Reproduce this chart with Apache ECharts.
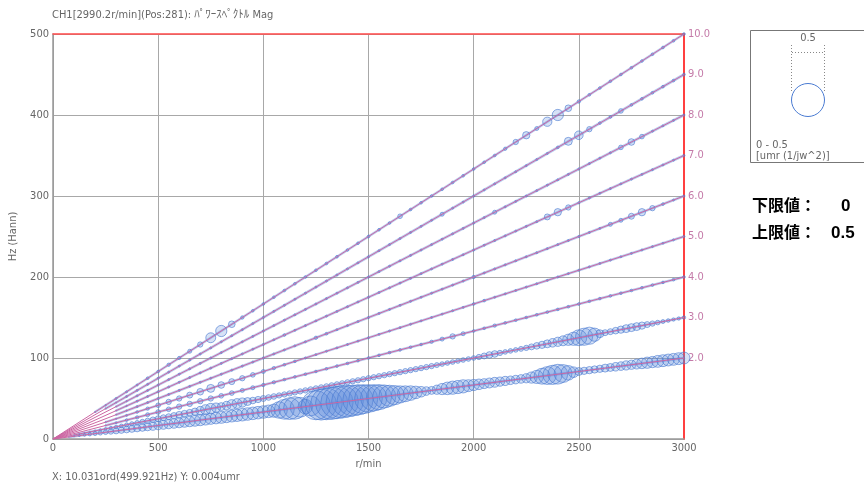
<!DOCTYPE html>
<html>
<head>
<meta charset="utf-8">
<script src="https://cdn.jsdelivr.net/npm/echarts@6/dist/echarts.min.js"></script>
<style>
  html, body { margin: 0; padding: 0; background: #fff; }
  #chart { width: 864px; height: 486px; }
</style>
</head>
<body>
<div id="chart"></div>
<script>
// r/min samples: fine grid (25) for the two strong orders, coarse grid (50) for the rest
var rpmFine = [], rpmCoarse = [];
for (var r = 0; r <= 3000; r += 25) rpmFine.push(r);
for (var r2 = 0; r2 <= 3000; r2 += 50) rpmCoarse.push(r2);

// amplitude [umr] read from the bubbles of each order track
var amp2 = [0,0,0,0.01,0.02,0.03,0.04,0.05,0.06,0.065,
  0.07,0.08,0.09,0.095,0.10,0.105,0.11,0.115,0.12,0.125,
  0.13,0.135,0.14,0.145,0.15,0.155,0.16,0.165,0.17,0.17,
  0.17,0.175,0.18,0.18,0.18,0.185,0.19,0.19,0.19,0.19,
  0.19,0.19,0.20,0.25,0.30,0.33,0.34,0.30,0.22,0.30,
  0.44,0.47,0.48,0.49,0.49,0.49,0.48,0.47,0.46,0.44,
  0.42,0.40,0.38,0.35,0.32,0.29,0.26,0.24,0.22,0.19,
  0.16,0.13,0.12,0.14,0.17,0.19,0.20,0.20,0.20,0.18,
  0.17,0.16,0.15,0.15,0.15,0.14,0.14,0.13,0.13,0.13,
  0.14,0.17,0.20,0.24,0.27,0.29,0.30,0.27,0.22,0.16,
  0.12,0.11,0.11,0.11,0.11,0.12,0.12,0.13,0.13,0.14,
  0.14,0.15,0.16,0.17,0.17,0.18,0.18,0.18,0.18,0.18,0.18];
var amp3 = [0,0,0,0,0.01,0.015,0.02,0.025,0.03,0.035,
  0.04,0.045,0.05,0.055,0.06,0.065,0.07,0.075,0.08,0.085,
  0.09,0.09,0.09,0.095,0.10,0.10,0.10,0.11,0.13,0.15,
  0.16,0.14,0.12,0.13,0.15,0.15,0.14,0.12,0.10,0.095,
  0.09,0.085,0.085,0.08,0.08,0.08,0.08,0.08,0.08,0.08,
  0.08,0.08,0.08,0.08,0.08,0.08,0.08,0.08,0.08,0.08,
  0.08,0.08,0.08,0.08,0.08,0.08,0.08,0.08,0.08,0.08,
  0.08,0.08,0.08,0.075,0.07,0.07,0.07,0.07,0.07,0.07,
  0.07,0.08,0.09,0.10,0.10,0.08,0.07,0.07,0.07,0.075,
  0.08,0.09,0.10,0.11,0.12,0.13,0.14,0.15,0.17,0.20,
  0.24,0.26,0.26,0.20,0.12,0.09,0.09,0.10,0.11,0.12,
  0.12,0.12,0.11,0.09,0.08,0.07,0.06,0.055,0.05,0.05,0.05];
var amp4 = [0,0,0,0,0,0.02,0.03,0.04,0.05,0.06,
  0.07,0.07,0.08,0.08,0.08,0.08,0.07,0.07,0.06,0.06,
  0.05,0.05,0.04,0.04,0.04,0.04,0.04,0.04,0.04,0.04,
  0.04,0.04,0.04,0.04,0.04,0.04,0.05,0.06,0.08,0.06,
  0.04,0.04,0.05,0.04,0.04,0.04,0.04,0.04,0.04,0.04,
  0.04,0.04,0.04,0.04,0.04,0.04,0.04,0.04,0.04,0.04,0.04];
var amp5 = [0,0,0,0,0,0.02,0.02,0.03,0.04,0.05,
  0.07,0.08,0.08,0.09,0.10,0.12,0.10,0.09,0.08,0.07,
  0.06,0.05,0.04,0.04,0.03,0.03,0.03,0.03,0.03,0.03,
  0.03,0.03,0.03,0.03,0.03,0.03,0.03,0.03,0.03,0.03,
  0.04,0.04,0.03,0.03,0.03,0.03,0.03,0.03,0.03,0.03,
  0.03,0.03,0.03,0.03,0.03,0.03,0.03,0.03,0.03,0.03,0.03];
var amp6 = [0,0,0,0,0,0,0.02,0.02,0.03,0.03,
  0.03,0.03,0.03,0.03,0.03,0.03,0.03,0.03,0.03,0.03,
  0.03,0.03,0.03,0.03,0.03,0.05,0.04,0.03,0.03,0.03,
  0.03,0.03,0.03,0.03,0.03,0.03,0.03,0.03,0.03,0.03,
  0.05,0.03,0.03,0.03,0.03,0.03,0.03,0.03,0.03,0.03,
  0.03,0.03,0.03,0.06,0.06,0.09,0.11,0.08,0.04,0.03,0.03];
var amp7 = [0,0,0,0,0,0,0.02,0.02,0.03,0.03,
  0.03,0.03,0.03,0.03,0.03,0.03,0.03,0.03,0.03,0.03,
  0.03,0.03,0.04,0.03,0.03,0.03,0.03,0.03,0.03,0.03,
  0.03,0.03,0.03,0.03,0.03,0.03,0.03,0.03,0.03,0.03,
  0.03,0.03,0.03,0.03,0.03,0.03,0.03,0.09,0.11,0.08,
  0.03,0.03,0.03,0.03,0.03,0.03,0.03,0.03,0.03,0.03,0.03];
var amp8 = [0,0,0,0,0,0,0.02,0.02,0.03,0.03,
  0.03,0.03,0.03,0.03,0.03,0.03,0.03,0.03,0.03,0.03,
  0.03,0.03,0.03,0.03,0.03,0.03,0.03,0.03,0.03,0.03,
  0.03,0.03,0.03,0.03,0.03,0.03,0.03,0.03,0.03,0.03,
  0.03,0.03,0.06,0.03,0.03,0.03,0.03,0.03,0.03,0.03,
  0.03,0.03,0.03,0.03,0.07,0.10,0.07,0.03,0.03,0.03,0.03];
var amp9 = [0,0,0,0,0,0.02,0.02,0.03,0.03,0.03,
  0.03,0.03,0.03,0.03,0.03,0.03,0.03,0.03,0.03,0.03,
  0.03,0.03,0.03,0.03,0.03,0.03,0.03,0.03,0.03,0.03,
  0.03,0.03,0.03,0.03,0.03,0.03,0.03,0.06,0.03,0.03,
  0.03,0.03,0.03,0.03,0.03,0.03,0.03,0.03,0.04,0.12,
  0.13,0.08,0.04,0.04,0.07,0.04,0.04,0.04,0.04,0.04,0.04];
var amp10 = [0,0,0,0,0.02,0.02,0.03,0.03,0.03,0.04,
  0.04,0.05,0.05,0.06,0.08,0.15,0.17,0.10,0.05,0.04,
  0.04,0.04,0.04,0.04,0.04,0.04,0.04,0.04,0.04,0.04,
  0.04,0.04,0.04,0.07,0.04,0.04,0.04,0.04,0.04,0.04,
  0.04,0.04,0.04,0.05,0.08,0.11,0.06,0.14,0.17,0.10,
  0.05,0.04,0.04,0.04,0.04,0.04,0.04,0.04,0.04,0.04,0.04];

var orders = [2, 3, 4, 5, 6, 7, 8, 9, 10];
var amps = [amp2, amp3, amp4, amp5, amp6, amp7, amp8, amp9, amp10];
var grids = [rpmFine, rpmFine, rpmCoarse, rpmCoarse, rpmCoarse, rpmCoarse, rpmCoarse, rpmCoarse, rpmCoarse];

var ampFull = 0.5;      // legend circle value
var fullSize = 33;      // legend circle diameter, px
var FONT = "'Liberation Sans Narrow','DejaVu Sans Condensed','Noto Sans CJK JP',sans-serif";
var BLUE = '#4a7bd2';

var series = [];
orders.forEach(function (ord, k) {
  var pts = [];
  grids[k].forEach(function (v, i) {
    if (amps[k][i] > 0) pts.push([v, ord * v / 60, amps[k][i]]);
  });
  // faint continuous trace of the tracked order, under the bubbles
  series.push({
    type: 'line',
    data: [[pts[0][0], pts[0][1]], [3000, ord * 50]],
    symbol: 'none',
    lineStyle: { color: 'rgba(91,136,216,0.45)', width: 2.6 },
    z: 1,
    silent: true
  });
  series.push({
    type: 'scatter',
    name: 'ord' + ord,
    data: pts,
    symbol: 'circle',
    symbolSize: function (d) { return d[2] / ampFull * fullSize; },
    itemStyle: {
      color: 'rgba(90,136,220,0.3)',
      borderColor: BLUE,
      borderWidth: 0.8
    },
    z: 2,
    silent: true
  });
});
orders.forEach(function (ord) {
  series.push({
    type: 'line',
    data: [[0, 0], [3000, ord * 50]],
    symbol: 'none',
    lineStyle: { color: '#cc67a3', width: 1 },
    z: 3,
    silent: true
  });
});

function plain(v) { return String(v); }

var chart = echarts.init(document.getElementById('chart'));
chart.setOption({
  animation: false,
  grid: { left: 51, top: 34, width: 633, height: 405 },
  xAxis: [{
    type: 'value', min: 0, max: 3000, interval: 500, position: 'bottom',
    name: 'r/min', nameLocation: 'middle', nameGap: 20,
    nameTextStyle: { color: '#666', fontSize: 11, fontFamily: FONT },
    axisLine: { onZero: false, lineStyle: { color: '#999', width: 1.5 } },
    axisTick: { show: false },
    axisLabel: { color: '#666', fontSize: 11, fontFamily: FONT, margin: 4, formatter: plain },
    splitLine: { lineStyle: { color: '#a8a8a8', width: 1 } }
  }, {
    type: 'value', min: 0, max: 3000, position: 'top',
    axisLine: { onZero: false, lineStyle: { color: '#ff4a4a', width: 1.5 } },
    axisTick: { show: false }, axisLabel: { show: false }, splitLine: { show: false }
  }],
  yAxis: [{
    type: 'value', min: 0, max: 500, interval: 100, position: 'left',
    name: 'Hz (Hann)', nameLocation: 'middle', nameGap: 34, nameRotate: 90,
    nameTextStyle: { color: '#666', fontSize: 11, fontFamily: FONT },
    axisLine: { show: true, onZero: false, lineStyle: { color: '#999', width: 1.5 } },
    axisTick: { show: false },
    axisLabel: { color: '#666', fontSize: 11, fontFamily: FONT, margin: 4, formatter: plain },
    splitLine: { lineStyle: { color: '#a8a8a8', width: 1 } }
  }, {
    type: 'value', min: 0, max: 10, interval: 1, position: 'right',
    axisLine: { show: true, onZero: false, lineStyle: { color: '#ff4040', width: 2 } },
    axisTick: { show: false },
    axisLabel: {
      color: '#c47aa8', fontSize: 11, fontFamily: FONT, margin: 4,
      formatter: function (v) { return v >= 2 ? v.toFixed(1) : ''; }
    },
    splitLine: { show: false }
  }],
  series: series,
  graphic: [
    { type: 'text', left: 52, top: 10,
      style: { text: 'CH1[2990.2r/min](Pos:281): ﾊﾟﾜｰｽﾍﾟｸﾄﾙ Mag', fill: '#666', font: '11px ' + FONT } },
    { type: 'text', left: 52, top: 472,
      style: { text: 'X: 10.031ord(499.921Hz) Y: 0.004umr', fill: '#666', font: '11px ' + FONT } },
    { type: 'rect', shape: { x: 750.5, y: 30.5, width: 130, height: 132 },
      style: { fill: 'none', stroke: '#777', lineWidth: 1 } },
    { type: 'text', x: 808, y: 33, style: { text: '0.5', fill: '#666', font: '11px ' + FONT, textAlign: 'center' } },
    { type: 'polyline', shape: { points: [[791.5, 45], [791.5, 93]] },
      style: { stroke: '#888', lineWidth: 1, lineDash: [1, 2] } },
    { type: 'polyline', shape: { points: [[824.5, 45], [824.5, 93]] },
      style: { stroke: '#888', lineWidth: 1, lineDash: [1, 2] } },
    { type: 'polyline', shape: { points: [[792, 52.5], [824, 52.5]] },
      style: { stroke: '#888', lineWidth: 1, lineDash: [1, 2] } },
    { type: 'circle', shape: { cx: 808, cy: 100, r: 16.5 },
      style: { fill: 'none', stroke: BLUE, lineWidth: 1 } },
    { type: 'text', left: 756, top: 140, style: { text: '0 - 0.5', fill: '#666', font: '11px ' + FONT } },
    { type: 'text', left: 756, top: 151, style: { text: '[umr (1/jw^2)]', fill: '#666', font: '11px ' + FONT } },
    { type: 'text', left: 752, top: 199,
      style: { text: '下限値：', fill: '#000', font: 'bold 16px "Liberation Sans","Noto Sans CJK JP",sans-serif' } },
    { type: 'text', left: 841, top: 198,
      style: { text: '0', fill: '#000', font: 'bold 17px "Liberation Sans",sans-serif' } },
    { type: 'text', left: 752, top: 226,
      style: { text: '上限値：', fill: '#000', font: 'bold 16px "Liberation Sans","Noto Sans CJK JP",sans-serif' } },
    { type: 'text', left: 831, top: 225,
      style: { text: '0.5', fill: '#000', font: 'bold 17px "Liberation Sans",sans-serif' } }
  ]
});
</script>
</body>
</html>
